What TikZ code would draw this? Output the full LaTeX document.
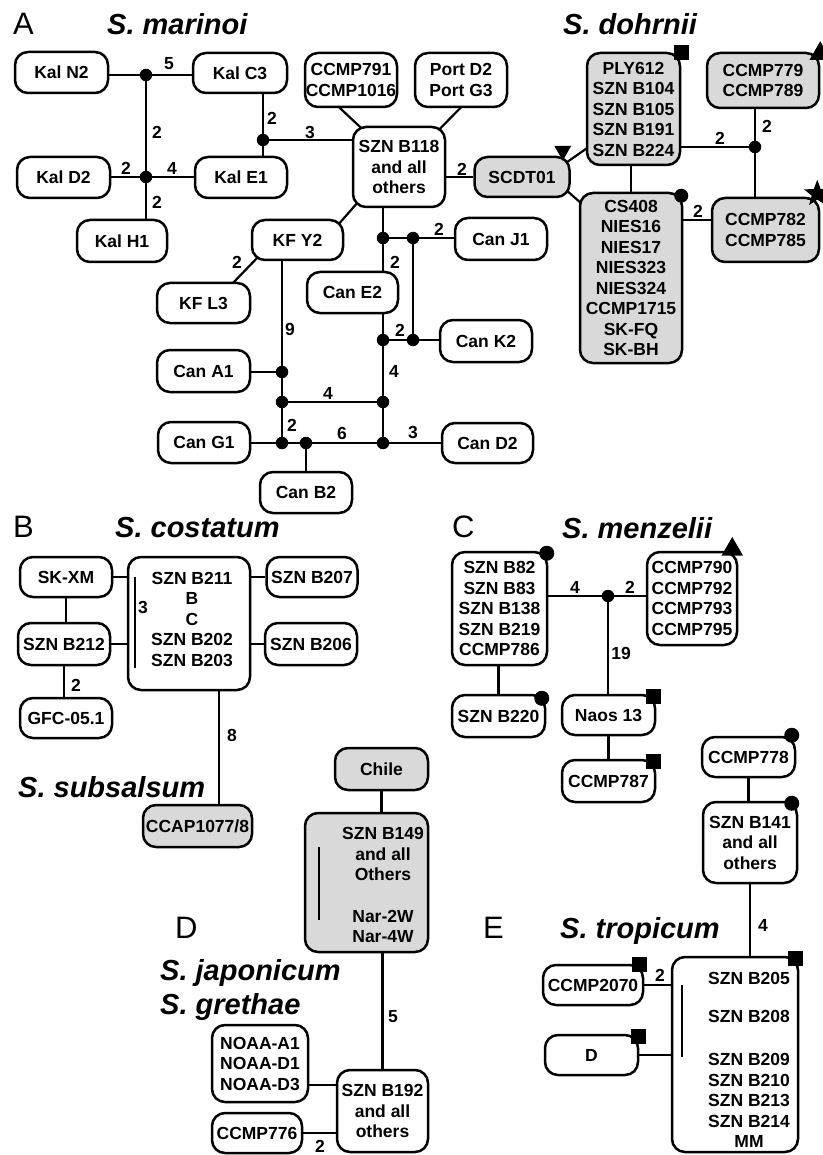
\documentclass[tikz,border=0pt]{standalone}
\usepackage{fontspec}
\setmainfont{Liberation Sans}
\usetikzlibrary{shapes.geometric,backgrounds}
\definecolor{boxgray}{RGB}{217,217,217}
\newcommand{\labfont}{\fontsize{17.5}{20.5}\selectfont\bfseries}
\newcommand{\titfont}{\fontsize{29}{32}\selectfont\bfseries\itshape}
\newcommand{\letfont}{\fontsize{31}{34}\selectfont}
\begin{document}
\begin{tikzpicture}[x=1pt,y=-1pt,
 hbox/.style={draw, line width=2.5pt, rounded corners=13pt, fill=white, font=\labfont, align=center, inner sep=0pt},
 hgbox/.style={hbox, fill=boxgray},
 sz/.style 2 args={minimum width=#1pt, minimum height=#2pt},
 conn/.style={line width=2.2pt},
 junc/.style={circle, fill=black, inner sep=0pt, minimum size=12.5pt},
 numlab/.style={font=\labfont, inner sep=0pt},
 boxtxt/.style={font=\labfont, align=center, inner sep=0pt},
 ttl/.style={font=\titfont, anchor=base west, inner sep=0pt},
 ltr/.style={font=\letfont, anchor=base west, inner sep=0pt},
 sqmark/.style={rectangle, fill=black, inner sep=0pt, minimum size=15pt},
 cirmark/.style={circle, fill=black, inner sep=0pt, minimum size=15pt},
 trimark/.style={regular polygon, regular polygon sides=3, fill=black, inner sep=0pt, minimum size=25pt},
 starmark/.style={star, star points=5, star point ratio=2.4, fill=black, inner sep=0pt, minimum size=28pt},
]
\useasboundingbox (0,0) rectangle (822,1155);

% ---------- titles ----------
\node[ltr] (lA) at (13,35) {A};
\node[ttl] (tmar) at (107,35) {S. marinoi};
\node[ttl] (tdoh) at (563,35) {S. dohrnii};
\node[ltr] (lB) at (13,537) {B};
\node[ttl] (tcos) at (115,537) {S. costatum};
\node[ltr] (lC) at (452,537) {C};
\node[ttl] (tmen) at (562,538) {S. menzelii};
\node[ttl] (tsub) at (18,797) {S. subsalsum};
\node[ltr] (lD) at (175,938) {D};
\node[ltr] (lE) at (483,938) {E};
\node[ttl] (tjap) at (160,980) {S. japonicum};
\node[ttl] (tgre) at (160,1014) {S. grethae};
\node[ttl] (ttro) at (560,938) {S. tropicum};

% ---------- panel A boxes ----------
\node[hbox, sz={93}{41}] (kaln2) at (61.5,72.5) {Kal N2};
\node[hbox, sz={94}{40}] (kalc3) at (240,73) {Kal C3};
\node[hbox, sz={93}{41}] (kald2) at (63.5,177.5) {Kal D2};
\node[hbox, sz={92}{41}] (kale1) at (241,177.5) {Kal E1};
\node[hbox, sz={90}{42}] (kalh1) at (122,241) {Kal H1};
\node[hbox, sz={92}{54}] (ccmp791) at (351,80) {CCMP791\\CCMP1016};
\node[hbox, sz={92}{54}] (port) at (461,80) {Port D2\\Port G3};
\node[hbox, sz={92}{80}] (szn118) at (399,167) {SZN B118\\and all\\others};
\node[hgbox, sz={95}{40}] (scdt) at (522,177) {SCDT01};
\node[hgbox, sz={93}{112}] (ply) at (633.5,109) {PLY612\\SZN B104\\SZN B105\\SZN B191\\SZN B224};
\node[hgbox, sz={112}{55}] (ccmp779) at (763,80.5) {CCMP779\\CCMP789};
\node[hgbox, sz={102}{170}] (cs408) at (631,278) {CS408\\NIES16\\NIES17\\NIES323\\NIES324\\CCMP1715\\SK-FQ\\SK-BH};
\node[hgbox, sz={107}{64}] (ccmp782) at (765.5,230) {CCMP782\\CCMP785};
\node[hbox, sz={91}{40}] (kfy2) at (297.5,240) {KF Y2};
\node[hbox, sz={93}{40}] (kfl3) at (203.5,303) {KF L3};
\node[hbox, sz={93}{42}] (cana1) at (203.5,371) {Can A1};
\node[hbox, sz={91}{41}] (cane2) at (352.5,292.5) {Can E2};
\node[hbox, sz={92}{42}] (canj1) at (501,239) {Can J1};
\node[hbox, sz={92}{42}] (cank2) at (486,341) {Can K2};
\node[hbox, sz={92}{41}] (cang1) at (204,442.5) {Can G1};
\node[hbox, sz={91}{40}] (cand2) at (487.5,443) {Can D2};
\node[hbox, sz={92}{41}] (canb2) at (306,492.5) {Can B2};

% junctions A
\node[junc] (d1) at (146,75) {};
\node[junc] (d2) at (146,177) {};
\node[junc] (d3) at (263,140) {};
\node[junc] (d4) at (755,147) {};
\node[junc] (d5) at (383,238) {};
\node[junc] (d6) at (413,238) {};
\node[junc] (d7) at (383,340) {};
\node[junc] (d8) at (413,340) {};
\node[junc] (d9) at (282,372) {};
\node[junc] (d10) at (282,402) {};
\node[junc] (d11) at (383,402) {};
\node[junc] (d12) at (282,443) {};
\node[junc] (d13) at (306,443) {};
\node[junc] (d14) at (383,443) {};

% ---------- panel B ----------
\node[hbox, sz={92}{40}] (skxm) at (66,577) {SK-XM};
\node[hbox, sz={122}{133}] (b211) at (189,623.5) {};
\node[boxtxt] (b211t) at (192,619) {SZN B211\\B\\C\\SZN B202\\SZN B203};
\node[hbox, sz={91}{40}] (szn207) at (312,577) {SZN B207};
\node[hbox, sz={92}{42}] (szn212) at (64,644) {SZN B212};
\node[hbox, sz={92}{42}] (szn206) at (311,644) {SZN B206};
\node[hbox, sz={92}{40}] (gfc) at (66,718) {GFC-05.1};
\node[hgbox, sz={109}{42}] (ccap) at (197.5,826) {CCAP1077/8};

% ---------- panel C ----------
\node[hbox, sz={95}{113}] (b82) at (499.5,608.5) {SZN B82\\SZN B83\\SZN B138\\SZN B219\\CCMP786};
\node[hbox, sz={90}{93}] (ccmp790) at (692,598.5) {CCMP790\\CCMP792\\CCMP793\\CCMP795};
\node[hbox, sz={93}{42}] (b220) at (498.5,716) {SZN B220};
\node[hbox, sz={93}{40}] (naos) at (608.5,715) {Naos 13};
\node[hbox, sz={93}{42}] (ccmp787) at (608.5,781) {CCMP787};
\node[junc] (c1) at (608,596) {};

% ---------- panel D ----------
\node[hgbox, sz={93}{42}] (chile) at (381.5,769) {Chile};
\node[hgbox, sz={123}{139}] (b149) at (366.5,882.5) {};
\node[boxtxt] (b149t) at (383,854) {SZN B149\\and all\\Others};
\node[boxtxt] (b149u) at (383,926.5) {Nar-2W\\Nar-4W};
\node[hbox, sz={96}{77}] (noaa) at (260,1063.5) {NOAA-A1\\NOAA-D1\\NOAA-D3};
\node[hbox, sz={91}{82}] (b192) at (382.5,1111) {SZN B192\\and all\\others};
\node[hbox, sz={90}{40}] (ccmp776) at (257,1133) {CCMP776};

% ---------- panel E ----------
\node[hbox, sz={93}{40}] (ccmp778) at (748.5,757) {CCMP778};
\node[hbox, sz={94}{81}] (b141) at (750,842.5) {SZN B141\\and all\\others};
\node[hbox, sz={126}{195}] (bigE) at (735,1054.5) {};
\node[boxtxt] (e1) at (749,978) {SZN B205};
\node[boxtxt] (e2) at (749,1016) {SZN B208};
\node[boxtxt] (e3) at (749,1100.5) {SZN B209\\SZN B210\\SZN B213\\SZN B214\\MM};
\node[hbox, sz={100}{40}] (ccmp2070) at (593,985) {CCMP2070};
\node[hbox, sz={93}{40}] (dbox) at (591.5,1055) {D};

% ---------- connectors ----------
\begin{scope}[on background layer]
% A
\draw[conn] (kaln2.east |- d1) -- (d1.center) -- (kalc3.west |- d1);
\draw[conn] (d1.center) -- (d2.center) -- (kalh1.north -| d2);
\draw[conn] (kald2.east |- d2) -- (d2.center) -- (kale1.west |- d2);
\draw[conn] (kalc3.south -| d3) -- (kale1.north -| d3);
\draw[conn] (d3.center) -- (szn118.west |- d3);
\draw[conn] ([xshift=-13pt,yshift=2pt]ccmp791.south) -- ([xshift=-37pt,yshift=-3pt]szn118.north);
\draw[conn] ([xshift=1pt,yshift=2pt]port.south) -- ([xshift=39pt,yshift=-5pt]szn118.north);
\draw[conn] (szn118.east |- scdt.west) -- (scdt.west);
\draw[conn] ([xshift=-12.5pt,yshift=-12.5pt]scdt.north east) -- ([xshift=4pt,yshift=20pt]ply.south west);
\draw[conn] ([xshift=-13.5pt,yshift=16pt]scdt.south east) -- ([xshift=7pt,yshift=-15.5pt]cs408.north west);
\draw[conn] (ply.east |- d4) -- (d4.center);
\draw[conn] (ccmp779.south -| d4) -- (ccmp782.north -| d4);
\draw[conn] (ply.south -| cs408.north) -- (cs408.north);
\coordinate (c782) at ([yshift=10pt]ccmp782.west);
\draw[conn] (cs408.east |- c782) -- (c782);
\draw[conn] ([xshift=7pt,yshift=7pt]szn118.south west) -- ([xshift=-7pt,yshift=-7pt]kfy2.north east);
\draw[conn] (szn118.south -| d5) -- (d5.center) -- (cane2.north -| d5);
\draw[conn] (d5.center) -- (d6.center) -- (canj1.west |- d5);
\draw[conn] (d6.center) -- (d8.center);
\draw[conn] (cane2.south -| d7) -- (d7.center) -- (d11.center) -- (d14.center);
\draw[conn] (d7.center) -- (d8.center) -- (cank2.west |- d8);
\draw[conn] (kfy2.south -| d9) -- (d9.center) -- (d10.center) -- (d12.center);
\draw[conn] (cana1.east |- d9) -- (d9.center);
\draw[conn] (d10.center) -- (d11.center);
\draw[conn] (cang1.east |- d12) -- (d12.center) -- (d13.center) -- (d14.center) -- (cand2.west |- d14);
\draw[conn] (d13.center) -- (canb2.north -| d13);
\draw[conn] ([xshift=-21pt,yshift=-4pt]kfl3.north east) -- ([xshift=10pt,yshift=7pt]kfy2.south west);
% B
\draw[conn] (skxm.east) -- (b211.west |- skxm.east);
\draw[conn] (b211.east |- szn207.west) -- (szn207.west);
\draw[conn] (szn212.east) -- (b211.west |- szn212.east);
\draw[conn] (b211.east |- szn206.west) -- (szn206.west);
\draw[conn] (skxm.south) -- (skxm.south |- szn212.north);
\draw[conn] (szn212.south) -- (szn212.south |- gfc.north);
\coordinate (b211b) at ([xshift=30pt]b211.south);
\draw[conn] (b211b) -- (ccap.north -| b211b);
% C
\draw[conn] (b82.east |- c1) -- (c1.center) -- (ccmp790.west |- c1);
\draw[conn] (c1.center) -- (c1 |- naos.north);
\draw[conn] (naos.south) -- (ccmp787.north);
\draw[conn] (b220.north |- b82.south) -- (b220.north);
% D
\draw[conn] (chile.south) -- (chile.south |- b149.north);
\draw[conn] (b192.north |- b149.south) -- (b192.north);
\coordinate (noaae) at ([yshift=-21.5pt]noaa.east);
\draw[conn] (noaae) -- (b192.west |- noaae);
\draw[conn] (ccmp776.east) -- (b192.west |- ccmp776.east);
% E
\draw[conn] (ccmp778.south) -- (ccmp778.south |- b141.north);
\draw[conn] (b141.south) -- (b141.south |- bigE.north);
\draw[conn] (ccmp2070.east) -- (bigE.west |- ccmp2070.east);
\draw[conn] (dbox.east) -- (bigE.west |- dbox.east);
\end{scope}

% inner bars
\draw[conn] (135,577) -- (135,668);
\draw[conn] (319,847) -- (319,920);
\draw[conn] (682,985) -- (682,1057);

% ---------- markers ----------
\node[sqmark] at ([yshift=-1pt]ply.north east) {};
\node[cirmark, minimum size=14pt] at ([xshift=-2pt,yshift=-4pt]cs408.north east) {};
\node[trimark, shape border rotate=180, minimum size=19.6pt] at ([xshift=-8pt,yshift=5pt]scdt.north east) {};
\node[trimark] at ([xshift=0pt,yshift=-2pt]ccmp779.north east) {};
\node[starmark] at ([xshift=-3pt,yshift=3pt]ccmp782.north east) {};
\node[cirmark] at ([xshift=-1.5pt,yshift=-2.5pt]b82.north east) {};
\node[cirmark] at ([xshift=-4.5pt,yshift=-4.5pt]b220.north east) {};
\node[trimark] at ([xshift=-6pt,yshift=1.3pt]ccmp790.north east) {};
\node[sqmark] at ([xshift=-2.5pt,yshift=-2.5pt]naos.north east) {};
\node[sqmark] at ([xshift=-2.5pt,yshift=-2.5pt]ccmp787.north east) {};
\node[cirmark] at ([xshift=-4.5pt,yshift=0.5pt]ccmp778.north east) {};
\node[cirmark] at ([xshift=-6.5pt,yshift=-2.5pt]b141.north east) {};
\node[sqmark] at ([xshift=-3.5pt,yshift=-2.5pt]bigE.north east) {};
\node[sqmark] at ([xshift=-4.5pt,yshift=-1pt]ccmp2070.north east) {};
\node[sqmark] at ([xshift=-0.5pt,yshift=-2.5pt]dbox.north east) {};

% ---------- numbers ----------
\node[numlab] at (169,64) {5};
\node[numlab] at (157,132) {2};
\node[numlab] at (126,168) {2};
\node[numlab] at (172,168) {4};
\node[numlab] at (157,202) {2};
\node[numlab] at (272,118) {2};
\node[numlab] at (310,132) {3};
\node[numlab] at (462,169) {2};
\node[numlab] at (720,138) {2};
\node[numlab] at (767,126) {2};
\node[numlab] at (698,211) {2};
\node[numlab] at (237,262) {2};
\node[numlab] at (439,229) {2};
\node[numlab] at (395,262) {2};
\node[numlab] at (400,330) {2};
\node[numlab] at (394,371) {4};
\node[numlab] at (290,329) {9};
\node[numlab] at (328,393) {4};
\node[numlab] at (292,425) {2};
\node[numlab] at (342,433) {6};
\node[numlab] at (413,432) {3};
\node[numlab] at (143,607) {3};
\node[numlab] at (76,685) {2};
\node[numlab] at (232,735) {8};
\node[numlab] at (575,587) {4};
\node[numlab] at (630,587) {2};
\node[numlab] at (621,653) {19};
\node[numlab] at (393,1017) {5};
\node[numlab] at (320,1146) {2};
\node[numlab] at (763,925) {4};
\node[numlab] at (660,975) {2};
\end{tikzpicture}
\end{document}
